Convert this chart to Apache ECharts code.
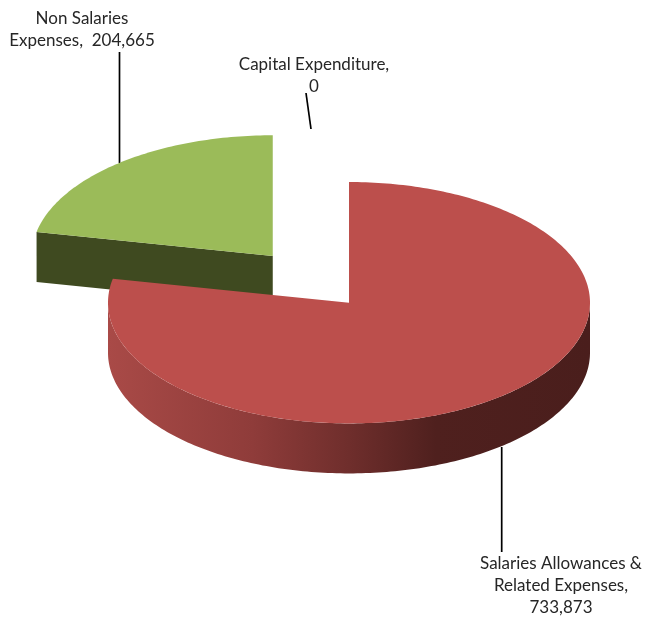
<!DOCTYPE html>
<html>
<head>
<meta charset="utf-8">
<title>Expenses</title>
<style>
	html, body { margin: 0; padding: 0; background: #fff; }
	#chart { width: 651px; height: 618px; }
</style>
<script src="https://cdn.jsdelivr.net/npm/echarts@6/dist/echarts.min.js"></script>
</head>
<body>
<div id="chart"></div>
<script>
	var categories = ['Salaries Allowances & Related Expenses', 'Non Salaries Expenses', 'Capital Expenditure'];
	var expenseValues = [733873, 204665, 0];
	var labelLines = [
		['Salaries Allowances &', 'Related Expenses,', '733,873'],
		['Non Salaries', 'Expenses,  204,665'],
		['Capital Expenditure,', '0']
	];

	var topColors = ['#bc4f4c', '#9bbb59', '#7f7f7f'];
	var faceColors = ['#4a1e1c', '#3f4a20', '#3f3f3f'];
	var explode = [0, 0.5, 0];
	var labelPos = [[561, 564], [82, 19], [314, 65]];
	var leaders = [[501.7, 447, 501.7, 552], [119.5, 52, 119.5, 163], [306, 93, 311, 129]];

	// pie geometry, ellipse because of the tilt
	var cx = 349, cy = 302.7, rx = 241, ry = 120.7, depth = 50;
	var total = expenseValues.reduce(function (a, b) { return a + b; }, 0);

	var rimFill = new echarts.graphic.LinearGradient(108, 0, 590, 0, [
		{ offset: 0, color: '#a94a47' },
		{ offset: 0.3, color: '#8f3c3a' },
		{ offset: 0.5, color: '#6f2e2c' },
		{ offset: 0.68, color: '#4f201e' },
		{ offset: 1, color: '#4a1e1c' }
	], true);

	function onRim(c, deg, dy) {
		var a = deg * Math.PI / 180;
		return [c[0] + rx * Math.sin(a), c[1] - ry * Math.cos(a) + dy];
	}

	function arcPoints(c, from, to, dy) {
		var pts = [], n = Math.max(1, Math.ceil(Math.abs(to - from)));
		for (var i = 0; i <= n; i++) {
			pts.push(onRim(c, from + (to - from) * i / n, dy));
		}
		return pts;
	}

	function renderSlice(params, api) {
		var i = params.dataIndex;
		var value = api.value(0);
		var children = [];
		var z = i === 0 ? 20 : 10;

		// start angle is the sum of the slices before this one
		var start = 0;
		for (var k = 0; k < i; k++) start += expenseValues[k] / total * 360;
		var end = start + value / total * 360;

		if (value > 0) {
			var mid = (start + end) / 2 * Math.PI / 180;
			var c = [
				cx + Math.sin(mid) * rx * explode[i],
				cy - Math.cos(mid) * ry * explode[i]
			];

			// outer wall, only the front half shows
			var r0 = Math.max(start, 90), r1 = Math.min(end, 270);
			if (r1 > r0) {
				children.push({
					type: 'polygon', z2: z,
					shape: { points: arcPoints(c, r0, r1, 0).concat(arcPoints(c, r1, r0, depth)) },
					style: { fill: rimFill }
				});
			}

			// cut faces that look towards the viewer
			[start, end].forEach(function (a, idx) {
				var s = Math.sin(a * Math.PI / 180);
				if (idx === 0 ? s < -1e-6 : s > 1e-6) {
					var p = onRim(c, a, 0);
					children.push({
						type: 'polygon', z2: z + 1,
						shape: { points: [c, p, [p[0], p[1] + depth], [c[0], c[1] + depth]] },
						style: { fill: faceColors[i] }
					});
				}
			});

			children.push({
				type: 'polygon', z2: z + 2,
				shape: { points: [c].concat(arcPoints(c, start, end, 0)) },
				style: { fill: topColors[i] }
			});
		}

		var l = leaders[i];
		children.push({
			type: 'line', z2: 5,
			shape: { x1: l[0], y1: l[1], x2: l[2], y2: l[3] },
			style: { stroke: '#000', lineWidth: 1.7 }
		});

		labelLines[i].forEach(function (t, n) {
			children.push({
				type: 'text', z2: 30,
				style: {
					text: t,
					x: labelPos[i][0],
					y: labelPos[i][1] + n * 22,
					align: 'center',
					verticalAlign: 'middle',
					fill: '#262626',
					font: '17px Lato'
				}
			});
		});

		return { type: 'group', children: children };
	}

	var chart = echarts.init(document.getElementById('chart'));
	chart.setOption({
		animation: false,
		backgroundColor: '#fff',
		series: [{
			type: 'custom',
			coordinateSystem: 'none',
			renderItem: renderSlice,
			data: categories.map(function (name, i) {
				return { name: name, value: [expenseValues[i]] };
			})
		}]
	});
</script>
</body>
</html>
